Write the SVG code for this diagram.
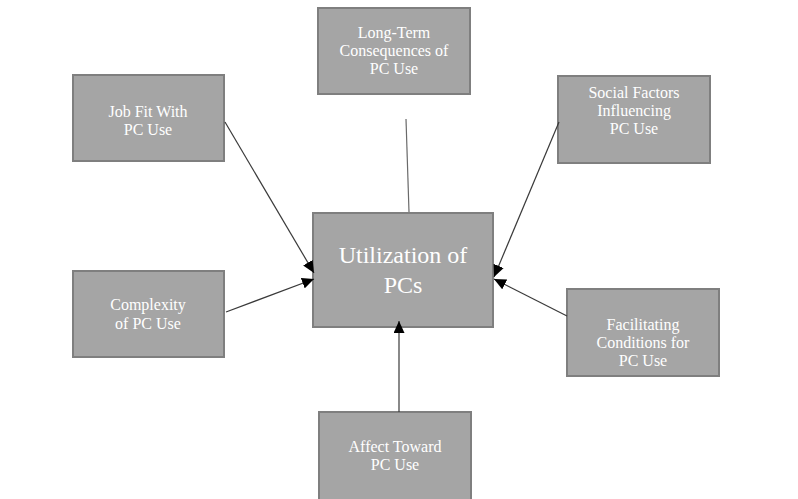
<svg xmlns="http://www.w3.org/2000/svg" width="798" height="499" viewBox="0 0 798 499">
<style>
.box{fill:#a5a5a5;stroke:#7f7f7f;stroke-width:2}
.t{font-family:"Liberation Serif","Times New Roman",serif;font-size:16px;fill:#ffffff;text-anchor:middle}
.big{font-size:24px}
.c{stroke:#3a3a3a;stroke-width:1.2;fill:none}
</style>
<defs>
<marker id="ah" markerWidth="13" markerHeight="11" refX="12" refY="5.5" orient="auto" markerUnits="userSpaceOnUse">
<path d="M0,0 L12,5.5 L0,11 Z" fill="#000"/>
</marker>
</defs>
<rect width="798" height="499" fill="#ffffff"/>
<g id="longterm">
<rect class="box" x="318" y="8" width="152" height="86"/>
<text class="t" x="394" y="38">Long-Term</text>
<text class="t" x="394" y="56">Consequences of</text>
<text class="t" x="394" y="74">PC Use</text>
</g>
<g id="jobfit">
<rect class="box" x="73" y="75" width="151" height="86"/>
<text class="t" x="148" y="117">Job Fit With</text>
<text class="t" x="148" y="135">PC Use</text>
</g>
<g id="complexity">
<rect class="box" x="73" y="271" width="151" height="86"/>
<text class="t" x="148" y="310">Complexity</text>
<text class="t" x="148" y="329">of PC Use</text>
</g>
<g id="utilization">
<rect class="box" x="313" y="213" width="180" height="114"/>
<text class="t big" x="403" y="263">Utilization of</text>
<text class="t big" x="403" y="293">PCs</text>
</g>
<g id="social">
<rect class="box" x="558" y="76" width="152" height="87"/>
<text class="t" x="634" y="98">Social Factors</text>
<text class="t" x="634" y="116">Influencing</text>
<text class="t" x="634" y="134">PC Use</text>
</g>
<g id="facilitating">
<rect class="box" x="567" y="289" width="152" height="87"/>
<text class="t" x="643" y="330">Facilitating</text>
<text class="t" x="643" y="348">Conditions for</text>
<text class="t" x="643" y="366">PC Use</text>
</g>
<g id="affect">
<rect class="box" x="319" y="412" width="152" height="92"/>
<text class="t" x="395" y="452">Affect Toward</text>
<text class="t" x="395" y="470">PC Use</text>
</g>
<g id="connectors">
<line class="c" x1="406" y1="119" x2="409" y2="212" style="stroke:#6a6a6a"/>
<line class="c" x1="225" y1="122" x2="314" y2="273" marker-end="url(#ah)"/>
<line class="c" x1="226" y1="312" x2="314" y2="279" marker-end="url(#ah)"/>
<line class="c" x1="559" y1="122" x2="494" y2="277" marker-end="url(#ah)"/>
<line class="c" x1="567" y1="316" x2="494" y2="279" marker-end="url(#ah)"/>
<line class="c" x1="399" y1="412" x2="399" y2="321" marker-end="url(#ah)"/>
</g>
</svg>
